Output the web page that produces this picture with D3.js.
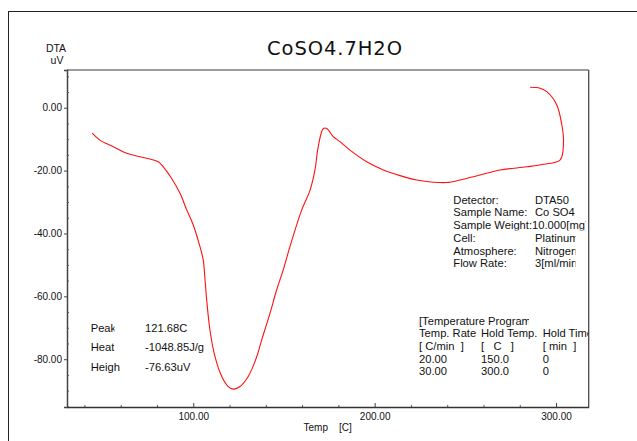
<!DOCTYPE html>
<html>
<head>
<meta charset="utf-8">
<script src="https://cdn.jsdelivr.net/npm/d3@7/dist/d3.min.js"></script>
<style>
  html, body { margin: 0; padding: 0; background: #fff; }
  svg { display: block; font-family: "Liberation Sans", Arial, sans-serif; }
  text { white-space: pre; }
</style>
</head>
<body>
<svg id="chart" width="637" height="441"></svg>
<script>
// DTA trace of CoSO4.7H2O: temperature [C] and signal [uV]
const temperature = [44.3, 48.5, 55.9, 63.3, 70.6, 76.1, 80.7, 83.5, 88.1, 92.7,
  96.4, 100.0, 103.7, 105.5, 106.5, 107.4, 109.2, 112.0, 115.7, 119.3,
  122.1, 125.8, 130.3, 135.0, 137.7, 142.3, 146.0, 149.6, 153.3, 159.8,
  164.4, 167.1, 168.9, 171.7, 173.6, 177.2, 180.9, 186.4, 195.6, 204.8,
  214.0, 223.2, 232.4, 239.8, 247.1, 258.1, 269.1, 283.9, 293.1, 302.3,
  304.1, 303.2, 300.4, 294.9, 291.2, 285.7];
const dta = [-8.1, -10.3, -12.4, -14.5, -15.6, -16.3, -17.2, -18.8, -22.5, -27.2,
  -32.5, -37.3, -44.2, -48.4, -54.8, -61.1, -70.7, -79.2, -85.5, -88.7,
  -89.5, -88.7, -85.5, -79.2, -73.9, -65.4, -57.9, -51.6, -44.2, -32.5,
  -26.2, -19.8, -12.4, -6.6, -6.6, -9.2, -10.8, -13.5, -17.2, -19.8,
  -21.6, -23.0, -23.7, -23.8, -23.0, -21.4, -19.8, -18.8, -18.0, -16.6,
  -10.8, -5.5, 0.9, 5.1, 6.2, 6.5];

const xTickValues = [100, 200, 300];
const xTickLabels = ["100.00", "200.00", "300.00"];
const yTickValues = [0, -20, -40, -60, -80];
const yTickLabels = ["0.00", "-20.00", "-40.00", "-60.00", "-80.00"];

const titleText = "CoSO4.7H2O";
const detectorLabels = ["Detector:", "Sample Name:", "Sample Weight:10.000[mg]", "Cell:", "Atmosphere:", "Flow Rate:"];
const detectorValues = ["DTA50", "Co SO4", "", "Platinum", "Nitrogen", "3[ml/min]"];
const programHeader = "[Temperature Program]";
const programRows = [
  ["Temp. Rate", "Hold Temp.", "Hold Time"],
  ["[ C/min  ]", "[   C   ]", "[ min  ]"],
  ["20.00", "150.0", "0"],
  ["30.00", "300.0", "0"]
];
const peakLabels = ["Peak", "Heat", "Height"];
const peakValues = ["121.68C", "-1048.85J/g", "-76.63uV"];

const svg = d3.select("#chart");
const W = 637, H = 441;
const plot = { left: 67, top: 70, right: 588.7, bottom: 407 };

const x = d3.scaleLinear().domain([30.4, 318.0]).range([plot.left, plot.right]);
const y = d3.scaleLinear().domain([-95.2, 12.0]).range([plot.bottom, plot.top]);

// outer page frame
svg.append("line").attr("x1", 8).attr("x2", W).attr("y1", 11.5).attr("y2", 11.5)
  .attr("stroke", "#222").attr("stroke-width", 1);
svg.append("line").attr("x1", 8.5).attr("x2", 8.5).attr("y1", 11).attr("y2", H)
  .attr("stroke", "#222").attr("stroke-width", 1);

// title
svg.append("text").attr("x", 267).attr("y", 55)
  .attr("font-family", "DejaVu Sans, sans-serif")
  .attr("font-size", 19.5).attr("textLength", 135).attr("lengthAdjust", "spacing")
  .attr("fill", "#111").text(titleText);

// y-axis caption
svg.append("text").attr("x", 56).attr("y", 52).attr("text-anchor", "middle")
  .attr("font-size", 10.5).attr("fill", "#111").text("DTA");
svg.append("text").attr("x", 57).attr("y", 64).attr("text-anchor", "middle")
  .attr("font-size", 10.5).attr("fill", "#111").text("uV");

// plot frame: top and right
svg.append("line").attr("x1", plot.left).attr("x2", plot.right).attr("y1", plot.top).attr("y2", plot.top)
  .attr("stroke", "#7a7a7a").attr("stroke-width", 1.5);
svg.append("line").attr("x1", plot.right).attr("x2", plot.right).attr("y1", plot.top).attr("y2", plot.bottom)
  .attr("stroke", "#4a4a4a").attr("stroke-width", 1.3);

// y axis
const yAxis = d3.axisLeft(y).tickValues(yTickValues)
  .tickFormat((d, i) => yTickLabels[i]).tickSize(3).tickPadding(2);
const gy = svg.append("g").attr("transform", `translate(${plot.left},0)`).call(yAxis);
gy.select(".domain").attr("stroke", "#444").attr("stroke-width", 1.5);
gy.selectAll(".tick line").attr("stroke", "#444");
gy.selectAll(".tick text").attr("font-size", 10).attr("fill", "#111")
  .attr("font-family", "Liberation Sans, Arial, sans-serif");
const yMinor = d3.range(-95, 12.01, 5).filter(v => v % 20 !== 0);
svg.append("g").attr("transform", `translate(${plot.left},0)`).call(
  d3.axisRight(y).tickValues(yMinor).tickSize(2).tickFormat(""))
  .call(g => g.select(".domain").remove())
  .call(g => g.selectAll(".tick line").attr("stroke", "#555"));

// x axis
const xAxis = d3.axisBottom(x).tickValues(xTickValues)
  .tickFormat((d, i) => xTickLabels[i]).tickSize(0).tickPadding(6);
const gx = svg.append("g").attr("transform", `translate(0,${plot.bottom})`).call(xAxis);
gx.select(".domain").attr("stroke", "#333").attr("stroke-width", 1.5);
gx.selectAll(".tick text").attr("font-size", 10).attr("fill", "#111")
  .attr("font-family", "Liberation Sans, Arial, sans-serif");
svg.append("g").attr("transform", `translate(0,${plot.bottom})`).call(
  d3.axisTop(x).tickValues(xTickValues).tickSize(4).tickFormat(""))
  .call(g => g.select(".domain").remove())
  .call(g => g.selectAll(".tick line").attr("stroke", "#444"));
const xMinor = d3.range(40, 318, 20).filter(v => v % 100 !== 0);
svg.append("g").attr("transform", `translate(0,${plot.bottom})`).call(
  d3.axisTop(x).tickValues(xMinor).tickSize(2).tickFormat(""))
  .call(g => g.select(".domain").remove())
  .call(g => g.selectAll(".tick line").attr("stroke", "#555"));

// x-axis caption
const xCap = svg.append("text").attr("y", 431).attr("font-size", 10).attr("fill", "#111");
xCap.append("tspan").attr("x", 303.5).text("Temp");
xCap.append("tspan").attr("x", 339).text("[C]");

// DTA curve
const pts = temperature.map((t, i) => [t, dta[i]]);
const line = d3.line().x(d => x(d[0])).y(d => y(d[1])).curve(d3.curveCatmullRom.alpha(0.5));
svg.append("path").attr("d", line(pts)).attr("fill", "none")
  .attr("stroke", "#ff1010").attr("stroke-width", 1.1);

// text cut off at the edge of its cell
const defs = svg.append("defs");
let clipId = 0;
function clippedText(txt, tx, ty, size, clipRight, clipBottom) {
  const id = "clip" + (clipId++);
  defs.append("clipPath").attr("id", id).append("rect")
    .attr("x", tx - 2).attr("y", ty - size - 2)
    .attr("width", clipRight - tx + 2).attr("height", (clipBottom ?? ty + 4) - (ty - size - 2));
  return svg.append("text").attr("x", tx).attr("y", ty).attr("font-size", size)
    .attr("fill", "#111").attr("clip-path", `url(#${id})`).text(txt);
}

// sample information
const infoSize = 11.2;
detectorLabels.forEach((lab, i) => {
  const by = 203.5 + i * 12.75;
  if (i === 2) clippedText(lab, 453.3, by, infoSize, 585.5, by + 1.5);
  else clippedText(lab, 453.3, by, infoSize, 533, null);
  if (detectorValues[i]) clippedText(detectorValues[i], 535, by, infoSize, 575.5, null);
});

// temperature program
clippedText(programHeader, 419, 324.7, infoSize, 529, null);
const colX = [419, 481, 542.7];
programRows.forEach((row, r) => {
  const by = 337.3 + r * 12.6;
  row.forEach((cell, c) => clippedText(cell, colX[c], by, infoSize, c === 2 ? plot.right - 0.5 : colX[c + 1] - 1, null));
});

// peak analysis
const labelClip = [114.5, 114.5, 120];
peakLabels.forEach((lab, i) => {
  const by = 331.7 + i * 19.4;
  clippedText(lab, 90.7, by, infoSize, labelClip[i], null);
  svg.append("text").attr("x", 145).attr("y", by).attr("font-size", infoSize)
    .attr("fill", "#111").text(peakValues[i]);
});
</script>
</body>
</html>
